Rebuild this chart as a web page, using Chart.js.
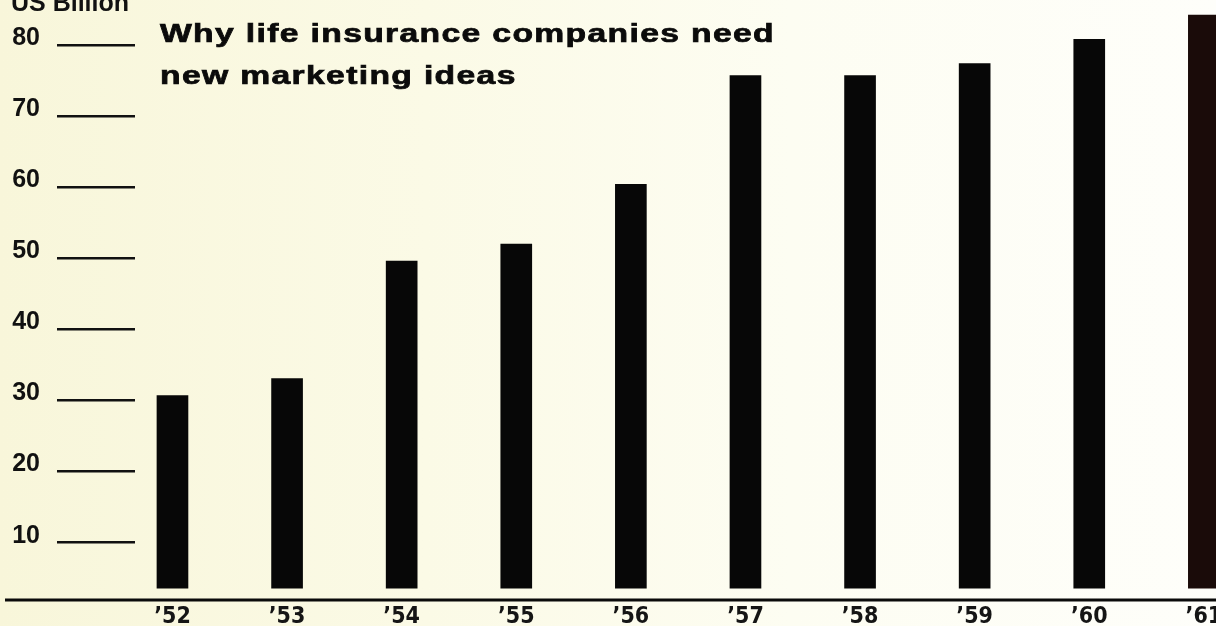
<!DOCTYPE html>
<html>
<head>
<meta charset="utf-8">
<script src="https://cdn.jsdelivr.net/npm/chart.js@4/dist/chart.umd.min.js"></script>
<style>
  html, body { margin: 0; padding: 0; }
  body {
    width: 1216px; height: 626px; overflow: hidden;
    background: linear-gradient(to right, #f8f6da 0%, #fbfae6 35%, #fdfdf2 65%, #fefefa 100%);
  }
  canvas { display: block; }
</style>
</head>
<body>
<canvas id="chart" width="1216" height="626"></canvas>
<script>
// Life insurance, US billions, 1952-1961
const years = [52, 53, 54, 55, 56, 57, 58, 59, 60, 61];
const yearLabels = ['’52', '’53', '’54', '’55', '’56', '’57', '’58', '’59', '’60', '’61'];
const values = [30.7, 33.1, 49.6, 52.0, 60.4, 75.7, 75.7, 77.4, 80.8, 84.2];
const yTicks = [10, 20, 30, 40, 50, 60, 70, 80];
const unitLabel = 'US Billion';
const titleLines = ['Why life insurance companies need', 'new marketing ideas'];

const barColors = values.map((v, i) => (i === values.length - 1 ? '#1a0b09' : '#070707'));

const SANS = '"Liberation Sans", Arial, sans-serif';
const NARROW = '"Liberation Sans Narrow", "DejaVu Sans Condensed", sans-serif';

// Title + unit label + long baseline, drawn over the chart area
const decorPlugin = {
  id: 'decor',
  afterDraw(chart) {
    const { ctx, chartArea } = chart;
    ctx.save();

    // baseline runs the full width, past the y-axis
    ctx.strokeStyle = '#0a0a0a';
    ctx.lineWidth = 3;
    ctx.beginPath();
    ctx.moveTo(5, chartArea.bottom);
    ctx.lineTo(chart.width, chartArea.bottom);
    ctx.stroke();

    // unit label, mostly cut off at the top edge
    ctx.fillStyle = '#111';
    ctx.font = 'bold 25px ' + SANS;
    ctx.textBaseline = 'alphabetic';
    ctx.textAlign = 'left';
    ctx.fillText(unitLabel, 11, 11);

    // extended heavy title
    ctx.font = 'bold 25px ' + SANS;
    ctx.letterSpacing = '1px';
    const w = ctx.measureText(titleLines[0]).width;
    const sx = 615 / w;
    ctx.translate(160, 0);
    ctx.scale(sx, 1);
    ctx.fillStyle = '#0b0b0b';
    ctx.strokeStyle = '#0b0b0b';
    ctx.lineWidth = 0.7;
    titleLines.forEach((t, i) => {
      ctx.fillText(t, 0, 42 + i * 42);
      ctx.strokeText(t, 0, 42 + i * 42);
    });
    ctx.restore();
  },
};

function draw() {
  new Chart(document.getElementById('chart'), {
    type: 'bar',
    data: {
      datasets: [{
        data: years.map((x, i) => ({ x, y: values[i] })),
        backgroundColor: barColors,
        borderWidth: 0,
        barThickness: 31,
        base: 3.6,
      }],
    },
    options: {
      responsive: false,
      devicePixelRatio: 1,
      animation: false,
      layout: { padding: 0 },
      plugins: {
        legend: { display: false },
        tooltip: { enabled: false },
        title: { display: false },
      },
      scales: {
        x: {
          type: 'linear',
          offset: false,
          min: 51.673,
          max: 61.106,
          afterFit(scale) {
            scale.height = 26;
            scale.paddingLeft = 0;
            scale.paddingRight = 0;
          },
          afterBuildTicks(scale) { scale.ticks = years.map((v) => ({ value: v })); },
          grid: { display: false, drawTicks: false },
          border: { display: false },
          ticks: {
            autoSkip: false,
            maxRotation: 0,
            padding: 3,
            color: '#151515',
            font: { family: NARROW, size: 23, weight: 'bold' },
            callback(v) {
              const i = years.indexOf(v);
              return i >= 0 ? yearLabels[i] : '';
            },
          },
        },
        y: {
          min: 1.94,
          max: 86.33,
          afterFit(scale) {
            scale.width = 135;
            scale.paddingTop = 0;
            scale.paddingBottom = 0;
          },
          afterBuildTicks(scale) { scale.ticks = yTicks.map((v) => ({ value: v })); },
          grid: {
            drawOnChartArea: false,
            drawTicks: true,
            tickLength: 78,
            tickColor: '#111',
            lineWidth: 2.5,
          },
          border: { display: false },
          ticks: {
            padding: 17,
            labelOffset: -7,
            color: '#111',
            font: { family: SANS, size: 25, weight: 'bold' },
          },
        },
      },
    },
    plugins: [decorPlugin],
  });
}

// make sure the faces are ready before the canvas is painted
Promise.all([
  document.fonts.load('bold 25px ' + SANS),
  document.fonts.load('bold 23px ' + NARROW),
]).then(draw, draw);
</script>
</body>
</html>
